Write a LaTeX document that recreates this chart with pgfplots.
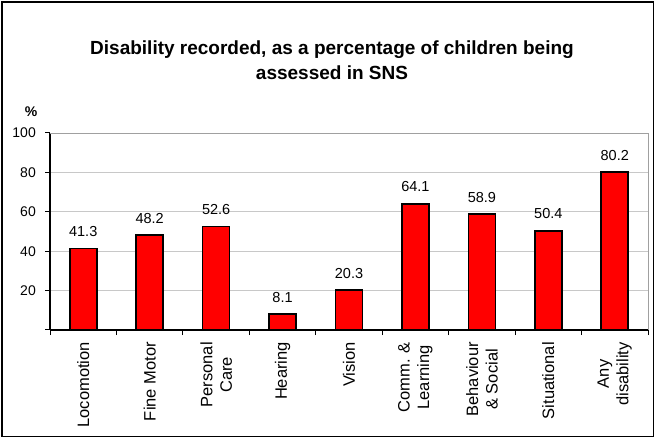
\documentclass[border=0pt]{standalone}
\usepackage{pgfplots}
\pgfplotsset{compat=1.18}
\usepackage{fontspec}
\setmainfont{Liberation Sans}
\definecolor{gridgray}{HTML}{C8C8C8}
\definecolor{boxgray}{HTML}{A0A0A0}
\begin{document}
\begin{tikzpicture}
\useasboundingbox (0,0) rectangle (656bp,439bp);
\draw[black, line width=1.2bp] (2bp,2.5bp) rectangle (653.5bp,437bp);
\node[anchor=base, font=\bfseries\fontsize{19bp}{22bp}\selectfont] at (332bp,384.7bp) {Disability recorded, as a percentage of children being};
\node[anchor=base, font=\bfseries\fontsize{19bp}{22bp}\selectfont] at (332bp,359bp) {assessed in SNS};
\node[anchor=base, font=\bfseries\fontsize{14bp}{16bp}\selectfont] at (31bp,322.3bp) {\%};
\begin{axis}[
  at={(50bp,109bp)}, anchor=south west,
  scale only axis, width=598bp, height=197bp,
  xmin=-0.5, xmax=8.5, ymin=0, ymax=100,
  axis x line*=bottom, axis y line*=left,
  axis line style={black, line width=1.2bp},
  ytick={0,20,...,100},
  yticklabels={,20,40,60,80,100},
  minor ytick={0,20,...,100},
  xtick={0,...,8},
  minor xtick={-0.5,0.5,...,8.5},
  major tick length=0bp,
  minor tick length=5bp,
  tick align=outside,
  minor tick style={black, line width=1bp},
  ymajorgrids,
  major grid style={gridgray, line width=0.8bp},
  /pgf/number format/assume math mode=true,
  xticklabels={Locomotion, Fine Motor, {Personal\\Care}, Hearing, Vision, {Comm. \&\\Learning}, {Behaviour\\\& Social}, Situational, {Any\\disability}},
  xticklabel style={rotate=90, anchor=east, align=center, inner sep=0pt, font=\fontsize{16.5bp}{19.5bp}\selectfont},
  xticklabel shift=12bp,
  yticklabel style={inner sep=0pt, font=\fontsize{14bp}{16bp}\selectfont},
  yticklabel shift=14bp,
  ybar, bar width=27bp,
  nodes near coords,
  nodes near coords style={font=\fontsize{14.5bp}{16bp}\selectfont, inner sep=0pt, anchor=south, yshift=11bp},
  clip=false,
]
\addplot[fill=red, draw=black, line width=1.6bp] coordinates {
 (0,41.3) (1,48.2) (2,52.6) (3,8.1) (4,20.3) (5,64.1) (6,58.9) (7,50.4) (8,80.2)
};
\draw[boxgray, line width=0.8bp] (rel axis cs:0,1) -- (rel axis cs:1,1) -- (rel axis cs:1,0);
\end{axis}
\end{tikzpicture}
\end{document}
